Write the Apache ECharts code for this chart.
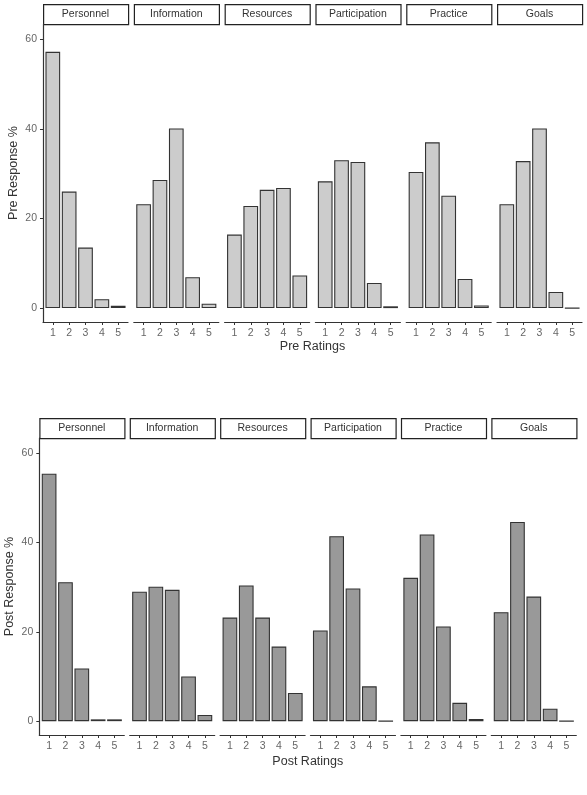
<!DOCTYPE html>
<html>
<head>
<meta charset="utf-8">
<script src="https://cdn.jsdelivr.net/npm/echarts@6/dist/echarts.min.js"></script>
<style>
  html, body { margin: 0; padding: 0; background: #fff; }
  #chart { width: 587px; height: 795px; }
</style>
</head>
<body>
<div id="chart"></div>
<script>
// facets and ratings
var facets = ["Personnel", "Information", "Resources", "Participation", "Practice", "Goals"];
var ratings = [1, 2, 3, 4, 5];
var yTicks = [0, 20, 40, 60];

// pre response % per facet (ratings 1..5)
var prePersonnel = [57.2, 26.0, 13.5, 2.0, 0.5];
var preInformation = [23.2, 28.6, 40.1, 6.9, 1.0];
var preResources = [16.4, 22.8, 26.4, 26.8, 7.3];
var preParticipation = [28.3, 33.0, 32.6, 5.6, 0.4];
var prePractice = [30.4, 37.0, 25.1, 6.5, 0.6];
var preGoals = [23.2, 32.8, 40.1, 3.6, 0];

// post response % per facet (ratings 1..5)
var postPersonnel = [55.4, 31.1, 11.8, 0.4, 0.4];
var postInformation = [29.0, 30.1, 29.4, 10.0, 1.4];
var postResources = [23.2, 30.4, 23.2, 16.7, 6.3];
var postParticipation = [20.3, 41.4, 29.7, 7.8, 0];
var postPractice = [32.1, 41.8, 21.2, 4.1, 0.5];
var postGoals = [24.4, 44.6, 27.9, 2.8, 0];

var preData = [prePersonnel, preInformation, preResources, preParticipation, prePractice, preGoals];
var postData = [postPersonnel, postInformation, postResources, postParticipation, postPractice, postGoals];

var FONT = "Liberation Sans";

// layout of the two facet blocks
var blocks = [
  { data: preData, left: 43, step: 90.8, top: 24, bottom: 322, stripTop: 4,
    fill: "#cccccc", yName: "Pre Response %", xName: "Pre Ratings", xNameY: 347 },
  { data: postData, left: 39.3, step: 90.4, top: 438, bottom: 735, stripTop: 418,
    fill: "#999999", yName: "Post Response %", xName: "Post Ratings", xNameY: 762 }
];
var panelW = 85;
var stripH = 20;
var barW = panelW / 5.2 * 0.9;

var grids = [], xAxes = [], yAxes = [], series = [], graphics = [];

blocks.forEach(function(b, bi) {
  b.data.forEach(function(vals, i) {
    var idx = grids.length;
    var left = b.left + i * b.step;
    grids.push({ left: left, top: b.top, width: panelW, height: b.bottom - b.top });

    xAxes.push({
      gridIndex: idx, type: "value", min: 0.4, max: 5.6,
      axisLine: { show: true, onZero: false, lineStyle: { color: "#333", width: 1.2 } },
      axisTick: { show: true, length: 3, customValues: ratings, lineStyle: { color: "#333" } },
      axisLabel: { customValues: ratings, color: "#666", fontSize: 10.5, fontFamily: FONT, margin: 6 },
      splitLine: { show: false }
    });

    yAxes.push({
      gridIndex: idx, type: "value", min: -3.1, max: 63.4, show: i === 0,
      name: i === 0 ? b.yName : "", nameLocation: "middle", nameRotate: 90, nameGap: 23,
      nameTextStyle: { color: "#333", fontSize: 12.5, fontFamily: FONT },
      axisLine: { show: true, lineStyle: { color: "#333", width: 1.2 } },
      axisTick: { show: true, length: 3, customValues: yTicks, lineStyle: { color: "#333" } },
      axisLabel: { customValues: yTicks, color: "#666", fontSize: 10.5, fontFamily: FONT, margin: 6 },
      splitLine: { show: false }
    });

    series.push({
      type: "bar", xAxisIndex: idx, yAxisIndex: idx, barWidth: barW,
      data: vals.map(function(v, k) { return [ratings[k], v]; }),
      itemStyle: { color: b.fill, borderColor: "#333", borderWidth: 1.1 },
      silent: true
    });

    // facet strip
    graphics.push({
      type: "rect", left: left, top: b.stripTop,
      shape: { width: panelW, height: stripH },
      style: { fill: "#fff", stroke: "#222", lineWidth: 1.2 }
    });
    graphics.push({
      type: "text", x: left + panelW / 2, y: b.stripTop + stripH / 2,
      style: { text: facets[i], fill: "#333", fontSize: 10.5, fontFamily: FONT,
               textAlign: "center", textVerticalAlign: "middle" }
    });
  });

  var spanL = b.left, spanR = b.left + 5 * b.step + panelW;
  graphics.push({
    type: "text", x: (spanL + spanR) / 2, y: b.xNameY,
    style: { text: b.xName, fill: "#333", fontSize: 12.5, fontFamily: FONT,
             textAlign: "center", textVerticalAlign: "middle" }
  });
});

var chart = echarts.init(document.getElementById("chart"));
chart.setOption({
  animation: false,
  backgroundColor: "#fff",
  grid: grids,
  xAxis: xAxes,
  yAxis: yAxes,
  series: series,
  graphic: graphics
});
</script>
</body>
</html>
